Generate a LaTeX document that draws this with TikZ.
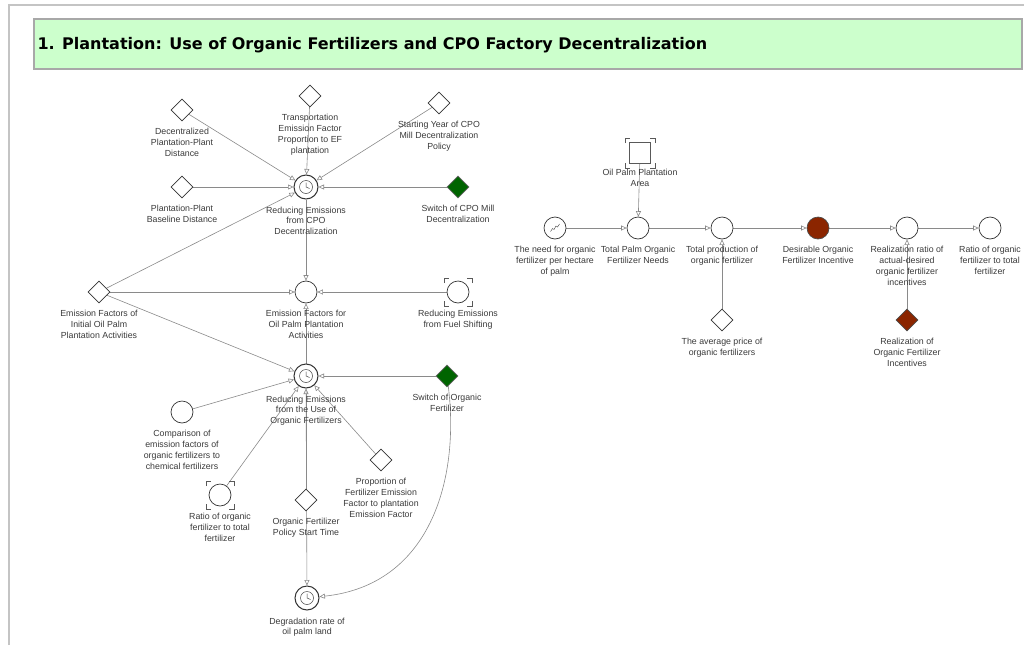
\documentclass[tikz,border=0pt]{standalone}
\usepackage{fontspec}
\setmainfont{Liberation Sans}
\newfontfamily\titlefont{DejaVu Sans}
\usetikzlibrary{arrows.meta,shapes.geometric,backgrounds}

\definecolor{titlegreen}{HTML}{CCFFCC}
\definecolor{boxgray}{HTML}{A8A8A8}
\definecolor{framegray}{HTML}{C4C4C4}
\definecolor{switchgreen}{HTML}{006400}
\definecolor{incbrown}{HTML}{8B2500}
\definecolor{linegray}{HTML}{8A8A8A}
\definecolor{txtgray}{HTML}{3A3A3A}

\tikzset{
  every label/.style={font=\fontsize{8.8}{10.7}\selectfont, text=txtgray, align=center, inner sep=0pt},
  lbl/.style={label={[label distance=7pt]below:{#1}}},
  auxvar/.style={circle, draw=black!80, fill=white, minimum size=22pt, inner sep=0pt, line width=0.7pt},
  param/.style={diamond, aspect=1, draw=black!80, fill=white, minimum size=22pt, inner sep=0pt, line width=0.7pt},
  switchpar/.style={param, fill=switchgreen, draw=black!60},
  incvar/.style={auxvar, fill=incbrown, draw=black!70},
  incpar/.style={param, fill=incbrown, draw=black!70},
  clockvar/.style={auxvar, minimum size=24pt, line width=1pt, path picture={
      \draw[line width=0.5pt, black!75] (path picture bounding box.center) circle (6.5pt);
      \draw[line width=0.5pt, black!75] (path picture bounding box.center) ++(0pt,4.5pt)
        -- (path picture bounding box.center) -- ++(3.5pt,-1.5pt);}},
  graphvar/.style={auxvar, path picture={
      \draw[line width=0.4pt, black!75] (path picture bounding box.center) ++(-4.5pt,-3.5pt)
        -- ++(2pt,3pt) -- ++(1.5pt,-1pt) -- ++(2pt,3.5pt) -- ++(1.5pt,-1pt) -- ++(2pt,3pt);}},
  areabox/.style={rectangle, draw=black!65, fill=white, minimum size=21pt, inner sep=0pt, line width=1.3pt},
  cornerline/.style={black!65, line width=1pt},
  link/.style={draw=linegray, line width=0.6pt, -{Triangle[open, length=5.5pt, width=5pt]}}
}

\newcommand{\corners}[2]{%
  \foreach \sx/\sy in {1/1,1/-1,-1/1,-1/-1}
    \draw[cornerline, shift={(#1.center)}] (\sx*#2, \sy*#2-\sy*5) -- (\sx*#2, \sy*#2) -- (\sx*#2-\sx*5, \sy*#2);
}

\begin{document}
\begin{tikzpicture}[x=1pt,y=-1pt]
\useasboundingbox (0,0) rectangle (1024,645);
\draw[framegray, line width=1.5pt] (9,645) -- (9,5) -- (1024,5);
\draw[boxgray, fill=titlegreen, line width=1.2pt] (34,19) rectangle (1022,69);
\node[anchor=west, font=\titlefont\fontsize{16}{18}\selectfont\bfseries] (title) at (34,45)
  {1. Plantation: Use of Organic Fertilizers and CPO Factory Decentralization};

% CPO mill decentralization
\node[param, lbl={Decentralized\\Plantation-Plant\\Distance}] (decDist) at (182,110) {};
\node[param, lbl={Transportation\\Emission Factor\\Proportion to EF\\plantation}] (transEF) at (310,96) {};
\node[param, lbl={Starting Year of CPO\\Mill Decentralization\\Policy}] (startYear) at (439,103) {};
\node[param, lbl={Plantation-Plant\\Baseline Distance}] (baseDist) at (182,187) {};
\node[clockvar, lbl={Reducing Emissions\\from CPO\\Decentralization}] (redCPO) at (306,187) {};
\node[switchpar, lbl={Switch of CPO Mill\\Decentralization}] (swCPO) at (458,187) {};

% plantation emission factors
\node[param, lbl={Emission Factors of\\Initial Oil Palm\\Plantation Activities}] (initEF) at (99,292) {};
\node[auxvar, lbl={Emission Factors for\\Oil Palm Plantation\\Activities}] (plantEF) at (306,292) {};
\node[auxvar, lbl={Reducing Emissions\\from Fuel Shifting}] (fuelShift) at (458,292) {};
\corners{fuelShift}{14}

% organic fertilizer
\node[clockvar, lbl={Reducing Emissions\\from the Use of\\Organic Fertilizers}] (redOrg) at (306,376) {};
\node[switchpar, lbl={Switch of Organic\\Fertilizer}] (swOrg) at (447,376) {};
\node[auxvar, lbl={Comparison of\\emission factors of\\organic fertilizers to\\chemical fertilizers}] (compEF) at (182,412) {};
\node[auxvar, lbl={Ratio of organic\\fertilizer to total\\fertilizer}] (ratioL) at (220,495) {};
\corners{ratioL}{14}
\node[param, lbl={Organic Fertilizer\\Policy Start Time}] (policyT) at (306,500) {};
\node[param, lbl={Proportion of\\Fertilizer Emission\\Factor to plantation\\Emission Factor}] (propEF) at (381,460) {};
\node[clockvar, lbl={Degradation rate of\\oil palm land}] (degr) at (307,598) {};

% incentive chain
\node[areabox, label={[label distance=5pt]below:{Oil Palm Plantation\\Area}}] (area) at (640,153) {};
\corners{area}{15}
\node[graphvar, lbl={The need for organic\\fertilizer per hectare\\of palm}] (needHa) at (555,228) {};
\node[auxvar, lbl={Total Palm Organic\\Fertilizer Needs}] (needTot) at (638,228) {};
\node[auxvar, lbl={Total production of\\organic fertilizer}] (prodTot) at (722,228) {};
\node[incvar, lbl={Desirable Organic\\Fertilizer Incentive}] (incDes) at (818,228) {};
\node[auxvar, lbl={Realization ratio of\\actual-desired\\organic fertilizer\\incentives}] (realRatio) at (907,228) {};
\node[auxvar, lbl={Ratio of organic\\fertilizer to total\\fertilizer}] (ratioR) at (990,228) {};
\node[param, lbl={The average price of\\organic fertilizers}] (avgPrice) at (722,320) {};
\node[incpar, lbl={Realization of\\Organic Fertilizer\\Incentives}] (realInc) at (907,320) {};

\begin{scope}[on background layer]
\draw[link] (decDist) -- (redCPO);
\draw[link] (transEF) -- (redCPO);
\draw[link] (startYear) -- (redCPO);
\draw[link] (baseDist) -- (redCPO);
\draw[link] (swCPO) -- (redCPO);
\draw[link] (initEF) -- (redCPO);
\draw[link] (redCPO) -- (plantEF);
\draw[link] (initEF) -- (plantEF);
\draw[link] (fuelShift) -- (plantEF);
\draw[link] (redOrg) -- (plantEF);
\draw[link] (initEF) -- (redOrg);
\draw[link] (swOrg) -- (redOrg);
\draw[link] (compEF) -- (redOrg);
\draw[link] (ratioL) -- (redOrg);
\draw[link] (policyT) -- (redOrg);
\draw[link] (propEF) -- (redOrg);
\draw[link] (redOrg) -- (degr);
\draw[link] (swOrg) .. controls (460,480) and (430,585) .. (degr);
\draw[link] (area) -- (needTot);
\draw[link] (needHa) -- (needTot);
\draw[link] (needTot) -- (prodTot);
\draw[link] (prodTot) -- (incDes);
\draw[link] (incDes) -- (realRatio);
\draw[link] (realRatio) -- (ratioR);
\draw[link] (avgPrice) -- (prodTot);
\draw[link] (realInc) -- (realRatio);
\end{scope}
\end{tikzpicture}
\end{document}
